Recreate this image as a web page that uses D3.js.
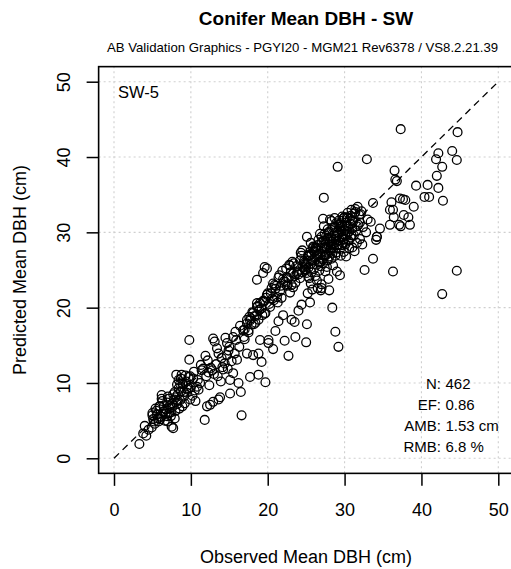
<!DOCTYPE html>
<html>
<head>
<meta charset="utf-8">
<script src="https://cdn.jsdelivr.net/npm/d3@7"></script>
<style>
  body { margin: 0; background: #fff; }
  svg { display: block; font-family: "Liberation Sans", Arial, sans-serif; }
</style>
</head>
<body>
<script>
// observed / predicted mean DBH (cm), in chunks by size class
const obsSmall = [
  3.3,3.8,4.0,4.5,4.9,4.2,5.1,5.3,5.0,5.6,5.8,5.4,6.0,6.2,6.1,6.4,6.6,6.8,6.9,7.0,7.2,7.3,7.5,7.7,7.4,7.6,7.8,7.9,8.0,8.1,
  8.2,8.3,8.4,8.5,8.6,8.7,8.8,8.9,9.0,9.1,9.2,9.4,9.5,9.6,9.7,9.8,9.8,9.9,10.0,10.2,10.3,10.5,10.6,10.8,11.0,11.2,5.2,5.7,6.3,6.7,
  7.1,7.9,8.3,9.3,
  5.5,6.5,7.2,8.0,8.6,9.1,6.0,7.6,8.4,9.5,5.9,6.9,7.7,8.9,9.9,10.4,7.0,8.2,5.0,6.2,8.7,9.7,10.9,11.4,7.4
];
const predSmall = [
  1.9,3.3,4.3,3.8,4.1,3.0,5.2,4.6,6.0,5.8,4.9,6.6,6.9,8.4,5.5,6.2,5.0,6.5,7.4,4.9,6.0,7.0,4.2,4.0,5.6,6.8,7.8,5.3,6.3,11.1,
  7.2,8.5,9.3,6.6,7.7,8.9,11.1,6.9,9.8,8.2,7.3,10.2,8.7,9.1,10.8,13.1,15.7,7.8,9.4,8.3,10.6,9.0,7.6,9.5,9.1,10.0,4.9,5.3,7.6,5.9,
  7.9,8.8,7.6,11.0,
  6.3,7.0,6.6,8.1,9.9,8.8,5.2,7.3,10.4,9.6,6.9,5.6,8.5,9.9,10.9,11.5,8.2,9.8,5.7,7.9,10.6,9.3,10.4,11.7,6.1
];

const obsMid = [
  11.6,11.8,12.0,12.1,12.3,12.5,12.6,12.9,12.9,13.0,13.1,13.3,13.5,13.6,13.6,13.8,14.0,14.2,14.4,14.7,14.7,14.9,15.1,15.1,15.3,15.5,
  15.5,15.7,15.9,16.2,16.3,16.5,16.6,16.8,17.0,17.3,17.3,17.5,17.7,17.9,18.1,18.3,18.6,18.6,18.8,18.8,19.0,19.2,19.4,19.6,19.7,19.9,
  11.3,12.2,12.8,13.4,14.1,14.5,15.0,15.8,16.0,16.9,12.4,13.9,14.8,16.4,11.9
];
const predMid = [
  11.9,5.1,10.9,6.9,11.4,7.1,12.0,7.5,15.9,11.2,15.5,12.5,10.9,7.8,13.9,8.1,13.3,11.8,12.6,13.7,15.3,14.3,8.6,10.4,12.9,11.3,
  16.1,13.9,15.7,10.0,14.8,8.8,5.7,17.0,15.8,13.9,18.4,16.7,10.8,17.8,13.7,18.9,20.6,23.7,11.1,13.9,15.7,12.8,24.6,25.4,10.1,25.2,
  12.4,13.0,11.7,14.6,12.1,16.0,14.8,16.8,13.1,16.1,9.7,10.2,11.9,17.6,13.6
];

const obsBand = [
  17.3,17.0,17.8,17.5,18.1,17.7,18.4,18.0,18.9,18.2,18.6,19.3,18.5,19.0,19.6,18.8,19.8,19.2,20.3,19.5,
  20.0,20.8,19.7,20.5,21.2,20.2,20.9,21.6,20.6,21.3,22.0,21.0,21.8,22.5,21.5,22.3,22.9,21.9,22.7,23.3,
  22.4,23.1,23.8,22.8,23.5,24.2,23.2,23.9,24.6,23.6,24.4,25.0,24.0,24.7,24.3,24.9,25.3,23.4,22.1,21.1,
  20.4,19.4,18.7,17.6,19.9,20.7,21.4,22.6,23.0,24.5,24.8,
  20.1,20.7,20.1,21.0,22.2,22.7,23.6,23.1,23.5,24.4,25.0,25.1,25.5,21.4,22.0,24.0
];
const predBand = [
  17.9,17.1,18.6,17.0,19.3,18.3,18.0,19.4,19.7,17.8,20.1,19.0,18.9,20.6,19.2,18.4,21.3,19.9,20.1,20.8,
  21.9,21.0,19.3,22.6,21.4,20.5,23.0,22.2,21.2,20.7,23.8,22.5,21.3,22.9,24.3,23.4,22.0,24.9,23.9,22.7,
  25.2,23.0,24.6,25.7,24.2,23.9,26.1,24.8,25.4,23.3,26.9,25.5,24.4,26.2,27.3,25.0,24.1,25.9,23.5,22.9,
  21.9,20.9,20.2,18.8,21.7,23.2,24.0,23.1,24.7,27.6,26.0,
  15.7,14.5,15.3,16.9,15.6,13.6,16.1,18.4,18.1,20.4,15.4,17.8,20.7,18.2,19.0,19.6
];

const obsDense = [
  25.0,25.1,25.2,25.3,25.4,25.5,25.6,25.7,25.8,25.9,26.0,25.3,25.6,25.8,25.2,
  26.1,26.2,26.3,26.4,26.5,26.6,26.7,26.8,26.9,27.0,26.2,26.4,26.6,26.8,27.0,26.5,26.9,27.0,
  27.1,27.2,27.3,27.4,27.5,27.6,27.7,27.8,27.9,28.0,27.2,27.3,27.3,27.5,27.7,27.9,28.0,27.4,27.6,27.8,
  28.1,28.2,28.3,28.4,28.4,28.5,28.6,28.7,28.8,28.8,28.9,29.0,29.0,29.1,29.2,28.3,28.5,28.7,28.9,28.2,
  29.1,29.2,29.3,29.4,29.4,29.5,29.6,29.7,29.8,29.9,29.9,30.0,30.0,30.3,29.3,29.5,29.7,29.9,30.0,29.2,
  30.1,30.2,30.3,30.4,30.5,30.6,30.7,30.8,30.9,31.0,30.5,30.8,30.2,31.0,
  31.1,31.2,31.4,31.5,31.7,31.8,32.0,32.1,32.2,32.4,32.6,32.9,33.0,31.3,31.6,32.3,32.8,
  24.2,25.7,26.3,27.1,27.8,28.6,29.4,30.1,25.4,26.9,27.5,28.2,29.0,29.7,30.6,31.3,
  24.8,26.1,26.7,27.3,28.0,28.9,29.5,30.3,31.0,25.9,26.5,27.9,28.4,29.2,30.8,31.6,
  24.5,25.2,26.0,27.6,28.7,29.8,30.4,32.0,23.7,24.9,26.4,27.0,28.3,29.3,30.9,31.9,
  22.5,23.3,25.6,27.4,28.8,30.2,21.7,22.9,26.8,28.1,29.6,31.4
];
const predDense = [
  25.9,24.6,26.8,25.3,23.9,27.4,25.8,24.7,26.3,27.9,25.1,27.0,23.2,22.4,21.9,
  26.6,24.2,27.6,25.7,28.3,26.1,24.9,27.2,25.5,28.7,27.9,23.6,29.0,26.0,23.1,22.6,22.3,22.6,
  27.4,25.9,28.9,26.8,24.8,29.5,27.9,26.3,28.4,30.1,31.8,30.8,34.6,27.1,25.4,23.8,22.3,29.8,28.1,30.4,
  27.6,29.2,26.5,28.8,20.0,30.6,27.9,29.9,26.9,16.8,31.2,28.3,24.8,38.7,14.8,31.5,25.6,31.9,27.3,28.0,
  30.0,28.9,31.6,24.3,27.8,30.7,29.3,32.1,28.6,31.9,31.9,30.3,32.0,32.0,29.9,26.9,30.9,27.4,29.1,31.0,
  28.4,31.3,29.7,32.6,30.8,27.9,31.8,29.3,33.0,30.5,28.9,32.2,26.8,28.0,
  31.4,29.6,32.7,30.2,33.4,31.0,29.1,32.4,32.8,30.7,25.0,39.7,31.7,27.5,28.6,28.4,30.0,
  26.3,27.1,28.0,26.4,29.1,28.5,30.8,29.6,26.9,26.1,28.8,27.4,29.6,28.3,30.1,32.5,
  25.1,27.4,26.0,27.9,26.8,29.1,31.2,30.9,31.5,28.1,27.0,29.9,27.2,28.4,31.1,30.8,
  24.7,26.2,27.5,27.0,30.7,29.0,31.9,31.3,25.5,25.8,26.9,29.4,28.4,30.4,29.6,32.3,
  24.0,24.6,28.6,28.0,29.5,30.5,22.9,25.6,29.8,31.7,30.2,33.1
];

const obsLarge = [
  33.4,33.7,33.7,34.1,34.2,34.6,35.9,35.9,36.1,36.3,36.3,36.4,36.5,36.6,36.8,37.1,37.2,37.3,37.3,37.6,
  37.7,37.9,38.3,38.5,39.0,39.3,40.4,40.8,41.0,41.9,42.0,42.2,42.2,42.7,42.7,42.8,44.0,44.6,44.6,44.7,
  25.1,34.2
];
const predLarge = [
  31.4,33.9,26.5,29.0,29.4,30.5,31.0,33.0,34.0,33.0,24.8,32.0,38.2,37.0,36.8,31.0,34.5,43.7,30.8,34.4,
  32.3,34.3,32.0,31.0,33.4,36.2,34.7,36.3,34.7,39.7,37.5,40.5,35.9,38.7,21.8,34.2,40.8,39.6,24.9,43.3,
  29.4,29.4
];

const ticks = [0, 10, 20, 30, 40, 50];
const statLabels = ["N:", "EF:", "AMB:", "RMB:"];
const statValues = ["462", "0.86", "1.53 cm", "6.8 %"];

const observed = [].concat(obsSmall, obsMid, obsBand, obsDense, obsLarge);
const predicted = [].concat(predSmall, predMid, predBand, predDense, predLarge);
const points = observed.map((d, i) => [d, predicted[i]]).filter(d => d[1] != null);

const W = 511, H = 569;
const svg = d3.select("body").append("svg").attr("width", W).attr("height", H);

const x = d3.scaleLinear().domain([0, 50]).range([114, 498.3]);
const y = d3.scaleLinear().domain([0, 50]).range([458.3, 81.7]);
const x0 = x(-2), x1 = x(52), y0 = y(-2), y1 = y(52);

// grid
const grid = svg.append("g").attr("stroke", "#cfcfcf").attr("stroke-width", 1.1).attr("stroke-dasharray", "2,3");
ticks.forEach(t => {
  grid.append("line").attr("x1", x(t)).attr("x2", x(t)).attr("y1", y0).attr("y2", y1);
  grid.append("line").attr("y1", y(t)).attr("y2", y(t)).attr("x1", x0).attr("x2", x1);
});

// 1:1 line
svg.append("line")
  .attr("x1", x(0)).attr("y1", y(0)).attr("x2", x(50)).attr("y2", y(50))
  .attr("stroke", "#000").attr("stroke-width", 1.3).attr("stroke-dasharray", "7,5");

// points
svg.append("g").selectAll("circle")
  .data(points)
  .enter().append("circle")
  .attr("cx", d => x(d[0]))
  .attr("cy", d => y(d[1]))
  .attr("r", 4.4)
  .attr("fill", "none")
  .attr("stroke", "#000")
  .attr("stroke-width", 1.3);

// box
svg.append("rect")
  .attr("x", x0).attr("y", y1).attr("width", x1 - x0).attr("height", y0 - y1)
  .attr("fill", "none").attr("stroke", "#000").attr("stroke-width", 1.6);

// axes
const xAxis = svg.append("g").attr("transform", `translate(0,${y0})`)
  .call(d3.axisBottom(x).tickValues(ticks).tickSize(12.5).tickPadding(17));
const yAxis = svg.append("g").attr("transform", `translate(${x0},0)`)
  .call(d3.axisLeft(y).tickValues(ticks).tickSize(12).tickPadding(8));
[xAxis, yAxis].forEach(a => {
  a.select(".domain").remove();
  a.selectAll(".tick line").attr("stroke", "#000").attr("stroke-width", 1.5);
  a.selectAll("text").attr("font-size", 18).attr("fill", "#000").attr("font-family", "Liberation Sans, Arial, sans-serif");
});
yAxis.selectAll(".tick text")
  .attr("x", null).attr("dy", null)
  .attr("text-anchor", "middle")
  .attr("transform", "translate(-35,0) rotate(-90) translate(0,6.5)");

// titles
svg.append("text").attr("x", 306).attr("y", 25).attr("text-anchor", "middle")
  .attr("font-size", 19).attr("font-weight", "bold").text("Conifer Mean DBH - SW");
svg.append("text").attr("x", 302.5).attr("y", 51.5).attr("text-anchor", "middle")
  .attr("font-size", 13.2).text("AB Validation Graphics - PGYI20 - MGM21 Rev6378 / VS8.2.21.39");
svg.append("text").attr("x", 306).attr("y", 562.5).attr("text-anchor", "middle")
  .attr("font-size", 18).text("Observed Mean DBH (cm)");
svg.append("text").attr("transform", `translate(26,${(y0 + y1) / 2}) rotate(-90)`)
  .attr("text-anchor", "middle").attr("font-size", 18).text("Predicted Mean DBH (cm)");

// panel label
svg.append("text").attr("x", 118).attr("y", 98.3).attr("font-size", 16.5).text("SW-5");

// stats
statLabels.forEach((s, i) => {
  const by = 389 + i * 21.1;
  svg.append("text").attr("x", 441).attr("y", by).attr("text-anchor", "end").attr("font-size", 15).text(s);
  svg.append("text").attr("x", 445.5).attr("y", by).attr("font-size", 15).text(statValues[i]);
});
</script>
</body>
</html>
